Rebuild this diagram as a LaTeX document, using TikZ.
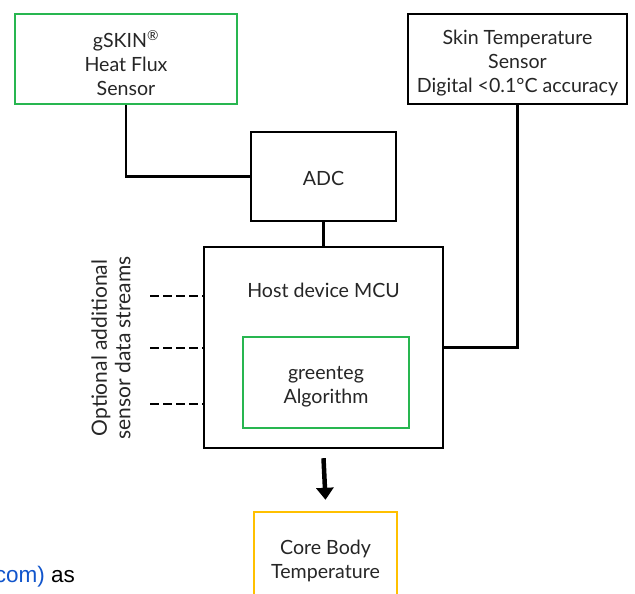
\documentclass[tikz,border=0pt]{standalone}
\usepackage{fontspec}
\setmainfont{Lato}
\newfontfamily\arialfont{Liberation Sans}
\usetikzlibrary{arrows.meta}
\definecolor{gtgreen}{RGB}{40,182,80}
\definecolor{gtyellow}{RGB}{255,192,0}
\definecolor{linkblue}{RGB}{17,85,204}
\begin{document}
\begin{tikzpicture}[x=1pt,y=-1pt,
  box/.style={draw=black,line width=2.4pt,fill=white,inner sep=0pt},
  lbl/.style={font=\fontsize{19.6}{24}\selectfont,text=black!85,align=center},
  wire/.style={draw=black,line width=2.4pt},
  dashwire/.style={draw=black,line width=2.6pt,dash pattern=on 9pt off 4pt},
  bigarrow/.style={draw=black,line width=4.5pt,-{Triangle[width=17pt,length=12pt]}}
]
\useasboundingbox[fill=white] (0,0) rectangle (635,594);

\node[box,draw=gtgreen,minimum width=222pt,minimum height=90pt,
  label={[lbl,yshift=-4pt]center:{gSKIN\textsuperscript{®}\\Heat Flux\\Sensor}}] (gskin) at (126,59) {};
\node[box,minimum width=219pt,minimum height=90pt,
  label={[lbl,yshift=-4pt]center:{Skin Temperature\\Sensor\\Digital <0.1°C accuracy}}] (skin) at (517.5,59) {};
\node[box,minimum width=145pt,minimum height=89pt,
  label={[lbl,yshift=-2pt]center:{ADC}}] (adc) at (323.5,176.5) {};
\node[box,minimum width=239pt,minimum height=201pt] (host) at (323.5,347.5) {};
\node[lbl] (hosttxt) at (323.5,290) {Host device MCU};
\node[box,draw=gtgreen,minimum width=166pt,minimum height=91pt,
  label={[lbl,yshift=-4pt]center:{greenteg\\Algorithm}}] (algo) at (326,382.5) {};
\node[box,draw=gtyellow,minimum width=143pt,minimum height=94pt,
  label={[lbl,yshift=-2pt]center:{Core Body\\Temperature}}] (core) at (325.5,559) {};

\draw[wire] (gskin.south) |- (adc.west);
\draw[wire] (adc.south) -- (host.north);
\draw[wire] (skin.south) |- (host.east);
\draw[bigarrow] ([yshift=-9pt]host.south) -- ([yshift=11pt]core.north);

\coordinate (d1) at (150,296);
\coordinate (d2) at (150,348);
\coordinate (d3) at (150,404);
\draw[dashwire] (d1) -- (d1 -| host.west);
\draw[dashwire] (d2) -- (d2 -| host.west);
\draw[dashwire] (d3) -- (d3 -| host.west);

\node[font=\fontsize{21}{23.5}\selectfont,text=black!85,align=center,rotate=90] (opt) at (111,348)
  {Optional additional\\sensor data streams};

\node[anchor=base east,font=\arialfont\fontsize{22.5}{24}\selectfont,inner sep=0pt] (cap) at (75,582)
  {\textcolor{linkblue}{com)} as};
\end{tikzpicture}
\end{document}
